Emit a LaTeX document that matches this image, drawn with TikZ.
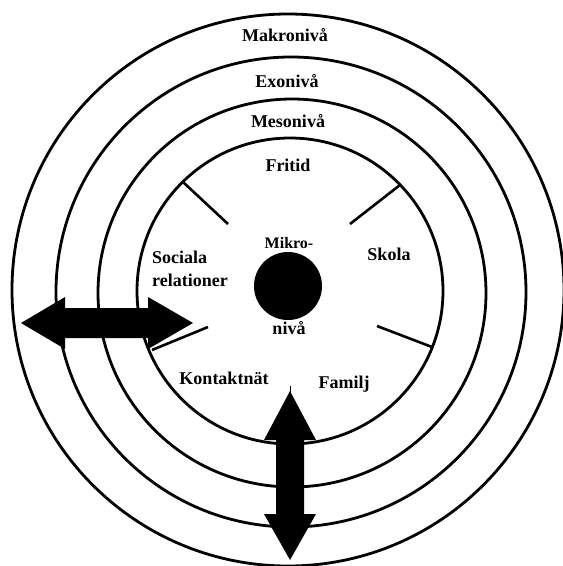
\documentclass[tikz,border=0pt]{standalone}
\usepackage{fontspec}
\setmainfont{Liberation Serif}
\begin{document}
\begin{tikzpicture}[x=1pt,y=-1pt,
  ring/.style={draw=black,line width=2.8pt},
  spoke/.style={draw=black,line width=2.6pt},
  lbl/.style={font=\fontsize{18}{20}\selectfont\bfseries,inner sep=0pt,anchor=base},
  blockarrow/.style={fill=black}]
\useasboundingbox (0,0) rectangle (563,566);
\clip (0,0) rectangle (563,566);
% rings
\draw[ring] (288,290) circle[radius=276pt];
\draw[ring] (291,292) circle[radius=235pt];
\draw[ring] (292,293) circle[radius=194pt];
\draw[ring] (290,291) circle[radius=153pt];
% spokes
\coordinate (s1a) at (183,182); \coordinate (s1b) at (228,224);
\coordinate (s2a) at (400,185); \coordinate (s2b) at (350,224);
\coordinate (s3a) at (432,347); \coordinate (s3b) at (377,326);
\coordinate (s4a) at (152,350); \coordinate (s4b) at (208,327);
\draw[spoke] (s1a) -- (s1b);
\draw[spoke] (s2a) -- (s2b);
\draw[spoke] (s3a) -- (s3b);
\draw[spoke] (s4a) -- (s4b);
% centre disc
\fill[black] (288,286) circle[radius=34pt];
% labels
\node[lbl] (makro) at (285,41) {Makronivå};
\node[lbl] (exo) at (287,87) {Exonivå};
\node[lbl] (meso) at (288,127) {Mesonivå};
\node[lbl] (fritid) at (288,171) {Fritid};
\node[lbl,anchor=base west] (soc1) at (152,263) {Sociala};
\node[lbl,anchor=base west] (soc2) at (152,286) {relationer};
\node[lbl] (skola) at (389,260) {Skola};
\node[lbl] (kontakt) at (224,384) {Kontaktnät};
\node[lbl] (familj) at (344,388) {Familj};
\node[lbl,font=\fontsize{16}{18}\selectfont\bfseries] (mikro) at (289,248) {Mikro-};
\node[lbl] (niva) at (289,334) {nivå};
% horizontal double arrow
\fill[blockarrow] (21,323) -- (65,297) -- (65,308) -- (148,308) -- (148,297)
  -- (193,323) -- (148,349) -- (148,338) -- (65,338) -- (65,349) -- cycle;
% vertical double arrow
\fill[blockarrow] (290,391) -- (316,440) -- (304,440) -- (304,514) -- (316,514)
  -- (290,560) -- (264,514) -- (276,514) -- (276,440) -- (264,440) -- cycle;
\draw[line width=1pt] (290,392) -- (290,386);
\end{tikzpicture}
\end{document}
